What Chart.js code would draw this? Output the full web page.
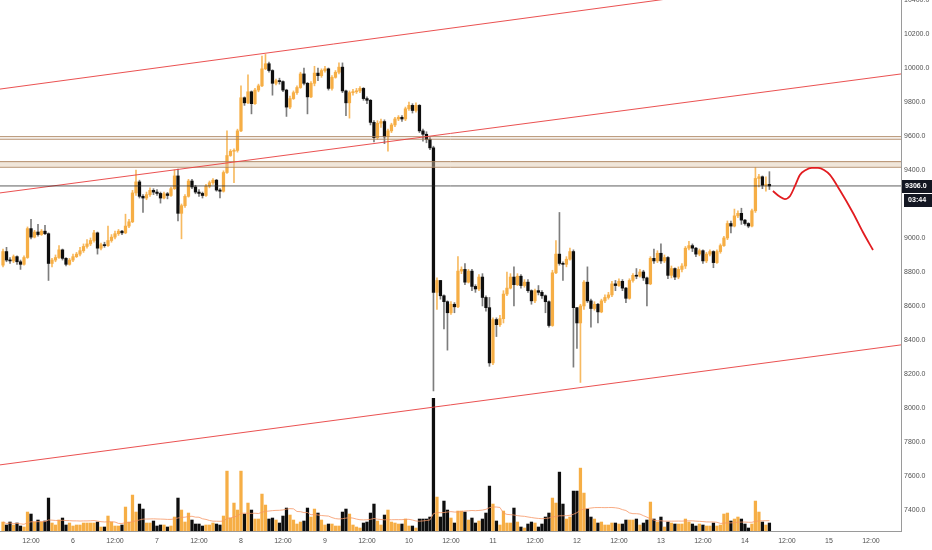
<!DOCTYPE html>
<html>
<head>
<meta charset="utf-8">
<script src="https://cdn.jsdelivr.net/npm/chart.js@4.4.1/dist/chart.umd.min.js"></script>
<style>
  html, body { margin: 0; padding: 0; background: #ffffff; }
  #wrap { width: 932px; height: 550px; }
</style>
</head>
<body>
<div id="wrap"><canvas id="chart" width="932" height="550"></canvas></div>
<script>
// Hourly candles. Hour 0 = day 5, 00:00.
const firstHour = 4;
const firstOpen = 8840;

const closes = [
  8920, 8870, 8865, 8890, 8860, 8845, 8885, 9055, 9005, 9035,
  9020, 9040, 9025, 8850, 8870, 8885, 8930, 8880, 8845, 8870,
  8890, 8905, 8925, 8950, 8965, 8985, 9030, 8940, 8960, 8955,
  8985, 9005, 9025, 9040, 9030, 9070, 9095, 9265, 9330, 9245,
  9235, 9255, 9280, 9270, 9262, 9235, 9260, 9250, 9290, 9365,
  9145, 9190, 9245, 9335, 9300, 9270, 9262, 9250, 9305, 9325,
  9340, 9282, 9275, 9385, 9485, 9510, 9515, 9630, 9825, 9795,
  9860, 9790, 9870, 9895, 9995, 10025, 9985, 9910, 9925, 9920,
  9870, 9770, 9820, 9855, 9885, 9965, 9910, 9830, 9910, 9970,
  9955, 9985, 9995, 9880, 9945, 9975, 10005, 9865, 9795, 9855,
  9860, 9865, 9880, 9820, 9810, 9680, 9590, 9675, 9685, 9595,
  9630, 9665, 9700, 9710, 9700, 9760, 9780, 9750, 9780, 9630,
  9610, 9580, 9530, 8680, 8750, 8660, 8625, 8560, 8610, 8595,
  8805, 8815, 8740, 8805, 8715, 8700, 8770, 8650, 8590, 8265,
  8520, 8490, 8525, 8670, 8705, 8770, 8725, 8775, 8720, 8740,
  8690, 8630, 8690, 8680, 8660, 8625, 8485, 8795, 8905, 8850,
  8845, 8875, 8920, 8590, 8500, 8600, 8740, 8630, 8585, 8610,
  8565, 8630, 8650, 8665, 8730, 8720, 8745, 8705, 8645, 8750,
  8780, 8775, 8800, 8765, 8730, 8880, 8865, 8910, 8865, 8885,
  8780, 8820, 8770, 8815, 8835, 8940, 8955, 8940, 8905, 8925,
  8865, 8905, 8920, 8855, 8920, 8955, 9000, 9085, 9070, 9130,
  9145, 9105, 9085, 9070, 9160, 9350, 9360, 9310, 9315, 9306
];

const highs = [
  8935, 8945, 8885, 8900, 8895, 8870, 8895, 9065, 9110, 9045,
  9080, 9050, 9075, 9030, 8880, 8900, 8955, 8935, 8885, 8880,
  8905, 8915, 8945, 8965, 8990, 9000, 9045, 9035, 8970, 8975,
  9070, 9020, 9040, 9050, 9045, 9140, 9110, 9280, 9400, 9340,
  9255, 9270, 9295, 9290, 9285, 9270, 9270, 9268, 9300, 9400,
  9405, 9200, 9255, 9345, 9345, 9310, 9285, 9270, 9315, 9335,
  9350, 9345, 9290, 9395, 9630, 9520, 9525, 9640, 9895, 9830,
  9960, 9865, 9880, 9905, 10070, 10080, 10035, 9990, 9935, 9940,
  9925, 9875, 9835, 9865, 9895, 9975, 10000, 9915, 9920, 10010,
  10000, 9995, 10010, 10000, 9955, 9985, 10030, 10030, 9870, 9865,
  9875, 9880, 9890, 9885, 9830, 9815, 9690, 9690, 9700, 9695,
  9640, 9675, 9710, 9720, 9720, 9770, 9800, 9790, 9795, 9785,
  9640, 9625, 9590, 9540, 8765, 8730, 8665, 8630, 8625, 8620,
  8890, 8830, 8850, 8815, 8815, 8725, 8785, 8790, 8660, 8650,
  8530, 8530, 8545, 8690, 8800, 8790, 8830, 8790, 8785, 8755,
  8755, 8695, 8700, 8720, 8690, 8665, 8630, 8810, 8985, 9150,
  8860, 8890, 8940, 8930, 8590, 8610, 8750, 8830, 8640, 8625,
  8615, 8640, 8665, 8680, 8745, 8750, 8760, 8755, 8710, 8760,
  8790, 8820, 8815, 8810, 8770, 8890, 8935, 8925, 8965, 8900,
  8890, 8835, 8825, 8830, 8850, 8950, 8980, 8965, 8945, 8935,
  8930, 8915, 8930, 8925, 8930, 8965, 9010, 9100, 9100, 9170,
  9160, 9175, 9110, 9090, 9170, 9415, 9375, 9365, 9360, 9390
];

const lows = [
  8830, 8860, 8850, 8855, 8845, 8815, 8840, 8880, 8995, 9000,
  9010, 9015, 9020, 8750, 8830, 8860, 8880, 8870, 8835, 8840,
  8860, 8885, 8895, 8915, 8940, 8955, 8975, 8905, 8930, 8945,
  8950, 8975, 8995, 9015, 9020, 9025, 9060, 9090, 9250, 9235,
  9150, 9225, 9245, 9255, 9250, 9205, 9230, 9230, 9245, 9285,
  9100, 8995, 9180, 9240, 9290, 9260, 9245, 9235, 9245, 9295,
  9315, 9275, 9235, 9270, 9380, 9480, 9325, 9505, 9625, 9780,
  9790, 9730, 9785, 9860, 9890, 9990, 9975, 9840, 9900, 9905,
  9860, 9715, 9760, 9815, 9845, 9880, 9900, 9730, 9825, 9895,
  9925, 9945, 9975, 9870, 9870, 9940, 9965, 9855, 9720, 9705,
  9840, 9850, 9855, 9810, 9790, 9665, 9565, 9580, 9650, 9555,
  9510, 9620, 9655, 9690, 9685, 9690, 9750, 9735, 9740, 9620,
  9570, 9560, 9520, 8100, 8580, 8640, 8465, 8340, 8550, 8560,
  8590, 8790, 8725, 8735, 8690, 8680, 8690, 8600, 8570, 8245,
  8255, 8420, 8480, 8500, 8660, 8700, 8600, 8720, 8705, 8710,
  8680, 8610, 8620, 8665, 8645, 8560, 8475, 8480, 8790, 8840,
  8750, 8830, 8870, 8240, 8350, 8150, 8580, 8620, 8475, 8575,
  8500, 8560, 8620, 8640, 8655, 8690, 8715, 8690, 8620, 8640,
  8740, 8760, 8770, 8750, 8600, 8725, 8850, 8855, 8850, 8855,
  8760, 8765, 8755, 8760, 8800, 8820, 8930, 8920, 8890, 8895,
  8850, 8855, 8895, 8825, 8850, 8910, 8950, 8990, 9030, 9065,
  9120, 9080, 9075, 9060, 9065, 9150, 9300, 9290, 9275, 9285
];

// volume, hundreds of BTC
const volumes = [
  9, 6, 9, 6, 8, 5, 4, 19, 17, 9,
  11, 9, 10, 33, 8, 6, 11, 13, 6, 8,
  5, 6, 6, 8, 8, 8, 8, 9, 4, 4,
  15, 9, 5, 5, 6, 24, 9, 36, 19, 27,
  22, 8, 8, 10, 5, 6, 6, 4, 5, 14,
  33, 21, 9, 18, 11, 7, 7, 5, 6, 6,
  8, 7, 6, 15, 60, 13, 28, 21, 60, 17,
  28, 21, 12, 12, 37, 26, 12, 13, 11, 8,
  15, 23, 16, 11, 7, 9, 10, 23, 14, 22,
  18, 11, 6, 7, 7, 5, 5, 19, 22, 17,
  6, 4, 3, 8, 9, 18, 27, 10, 6, 16,
  21, 9, 8, 7, 7, 12, 5, 5, 3, 12,
  12, 12, 14, 133, 34, 14, 30, 21, 13, 8,
  20, 20, 19, 11, 13, 8, 10, 12, 18, 45,
  27, 10, 6, 20, 8, 8, 23, 9, 4, 3,
  7, 9, 8, 4, 7, 14, 18, 33, 28, 59,
  27, 12, 14, 40, 40, 63, 38, 22, 14, 12,
  8, 9, 6, 6, 8, 8, 7, 7, 11, 11,
  11, 12, 6, 8, 11, 29, 12, 9, 14, 4,
  9, 8, 7, 7, 7, 12, 9, 7, 5, 7,
  6, 5, 5, 8, 5, 6, 17, 18, 10, 12,
  14, 12, 7, 3, 7, 30, 19, 9, 6, 8
];

const xTickLabels = ["12:00", "6", "12:00", "7", "12:00", "8", "12:00", "9", "12:00", "10", "12:00",
  "11", "12:00", "12", "12:00", "13", "12:00", "14", "12:00", "15", "12:00"];
const priceTicks = [7400, 7600, 7800, 8000, 8200, 8400, 8600, 8800, 9000, 9200, 9400, 9600, 9800, 10000, 10200, 10400];

const lastPrice = 9306.0;
const countdown = "03:44";

// drawings
const trendHours = [3.14, 260.6];
const channelTop = [9876, 10592];
const channelMid = [9265, 9965];
const channelLow = [7665, 8371];
const resistanceLines = [9596, 9581];
const supplyZone = [9416, 9449];
const forecastHours = [224.0, 225.7, 227.4, 228.9, 230.3, 231.7, 233.4, 235.1, 236.9, 238.6, 240.3, 243.1, 246.9, 249.7, 252.6];
const forecastPrices = [9276, 9247, 9229, 9247, 9306, 9371, 9400, 9412, 9412, 9400, 9371, 9282, 9147, 9035, 8929];

const xMin = 3.14;
const xMax = 260.6;
const yMin = 7276;
const yMax = 10400;

const UP = "rgb(246, 174, 69)";
const UP_WICK = "rgba(246, 174, 69, 0.85)";
const DOWN = "#0e0e0e";
const DOWN_WICK = "#7d7d7d";
const RED = "rgba(232, 62, 62, 0.9)";
const BROWN = "rgba(170, 128, 90, 0.9)";
const FAMILY = "'Liberation Sans', Arial, sans-serif";

const hours = closes.map((c, i) => firstHour + i);
const opens = closes.map((c, i) => (i === 0 ? firstOpen : closes[i - 1]));
const isUp = closes.map((c, i) => c >= opens[i]);

const bodies = hours.map((h, i) => ({ x: h, y: [opens[i], closes[i]] }));
const wicks = hours.map((h, i) => ({
    x: h,
    y: [Math.min(lows[i], opens[i], closes[i]), Math.max(highs[i], opens[i], closes[i])],
}));
const volumeBars = hours.map((h, i) => ({ x: h, y: volumes[i] }));

// 20 period volume average
const volumeAvg = hours.map((h, i) => {
    const win = volumes.slice(Math.max(0, i - 19), i + 1);
    return { x: h, y: win.reduce((a, b) => a + b, 0) / win.length };
});

const flatLine = (p) => [{ x: xMin, y: p }, { x: xMax, y: p }];
const trendLine = (pair) => [{ x: trendHours[0], y: pair[0] }, { x: trendHours[1], y: pair[1] }];
const forecast = forecastHours.map((h, i) => ({ x: h, y: forecastPrices[i] }));

function lineSet(data, color, width, extra) {
    return Object.assign({
        type: "line",
        data: data,
        borderColor: color,
        borderWidth: width,
        pointRadius: 0,
        fill: false,
        xAxisID: "x",
        yAxisID: "y",
        order: 1,
    }, extra || {});
}

// price tag + countdown on the right scale
const lastPriceTag = {
    id: "lastPriceTag",
    afterDraw(chart) {
        const { ctx } = chart;
        const y = chart.scales.y;
        const py = Math.round(y.getPixelForValue(lastPrice));
        const left = y.left + 1;
        ctx.save();
        ctx.fillStyle = "#131722";
        ctx.fillRect(left, py - 6, 30, 13);
        ctx.fillRect(left + 2, py + 8, 28, 13);
        ctx.fillStyle = "#ffffff";
        ctx.font = "bold 7.1px " + FAMILY;
        ctx.textBaseline = "middle";
        ctx.fillText(lastPrice.toFixed(1), left + 3, py + 0.5);
        ctx.fillText(countdown, left + 6, py + 14.5);
        ctx.restore();
    },
};

const ctx = document.getElementById("chart").getContext("2d");

new Chart(ctx, {
    type: "bar",
    data: {
        datasets: [
            lineSet(forecast, "rgb(226, 28, 32)", 1.8, { cubicInterpolationMode: "monotone", order: 0 }),
            lineSet(flatLine(lastPrice), "rgba(40, 40, 40, 0.75)", 1),
            lineSet(trendLine(channelTop), RED, 1),
            lineSet(trendLine(channelMid), RED, 1),
            lineSet(trendLine(channelLow), RED, 1),
            lineSet(flatLine(resistanceLines[0]), BROWN, 1),
            lineSet(flatLine(resistanceLines[1]), BROWN, 1),
            lineSet(flatLine(supplyZone[1]), BROWN, 1, { fill: "+1", backgroundColor: "rgba(222, 200, 172, 0.45)" }),
            lineSet(flatLine(supplyZone[0]), BROWN, 1),
            {
                label: "body",
                data: bodies,
                backgroundColor: isUp.map((u) => (u ? UP : DOWN)),
                borderWidth: 0,
                barThickness: 2.6,
                minBarLength: 1,
                grouped: false,
                yAxisID: "y",
                order: 3,
            },
            {
                label: "wick",
                data: wicks,
                backgroundColor: isUp.map((u) => (u ? UP_WICK : DOWN_WICK)),
                borderWidth: 0,
                barThickness: 1,
                grouped: false,
                yAxisID: "y",
                order: 4,
            },
            lineSet(volumeAvg, "rgba(246, 150, 100, 0.8)", 1, { yAxisID: "yv", order: 5 }),
            {
                label: "volume",
                data: volumeBars,
                backgroundColor: isUp.map((u) => (u ? UP : DOWN)),
                borderWidth: 0,
                barThickness: 2.6,
                grouped: false,
                yAxisID: "yv",
                order: 6,
            },
        ],
    },
    options: {
        responsive: false,
        animation: false,
        events: [],
        layout: { padding: 0 },
        plugins: {
            legend: { display: false },
            tooltip: { enabled: false },
        },
        scales: {
            x: {
                type: "linear",
                min: xMin,
                max: xMax,
                offset: false,
                grid: { display: false, drawTicks: false },
                border: { display: true, color: "#9a9a9a" },
                afterBuildTicks: (s) => {
                    s.ticks = xTickLabels.map((t, i) => ({ value: 12 * (i + 1) }));
                },
                afterFit: (s) => {
                    s.height = 19;
                    s.paddingLeft = 0;
                    s.paddingRight = 0;
                },
                ticks: {
                    autoSkip: false,
                    maxRotation: 0,
                    padding: 6,
                    color: "#505050",
                    font: { family: FAMILY, size: 7 },
                    callback: (v, i) => xTickLabels[i],
                },
            },
            y: {
                type: "linear",
                position: "right",
                min: yMin,
                max: yMax,
                grid: { display: false, drawTicks: false },
                border: { display: true, color: "#9a9a9a" },
                afterBuildTicks: (s) => {
                    s.ticks = priceTicks.map((v) => ({ value: v }));
                },
                afterFit: (s) => {
                    s.width = 31;
                    s.paddingTop = 0;
                    s.paddingBottom = 0;
                },
                ticks: {
                    padding: 3,
                    color: "#505050",
                    font: { family: FAMILY, size: 7 },
                    callback: (v) => Number(v).toFixed(1),
                },
            },
            yv: {
                type: "linear",
                display: false,
                min: 0,
                max: 4 * Math.max(...volumes),
            },
        },
    },
    plugins: [lastPriceTag],
});
</script>
</body>
</html>
